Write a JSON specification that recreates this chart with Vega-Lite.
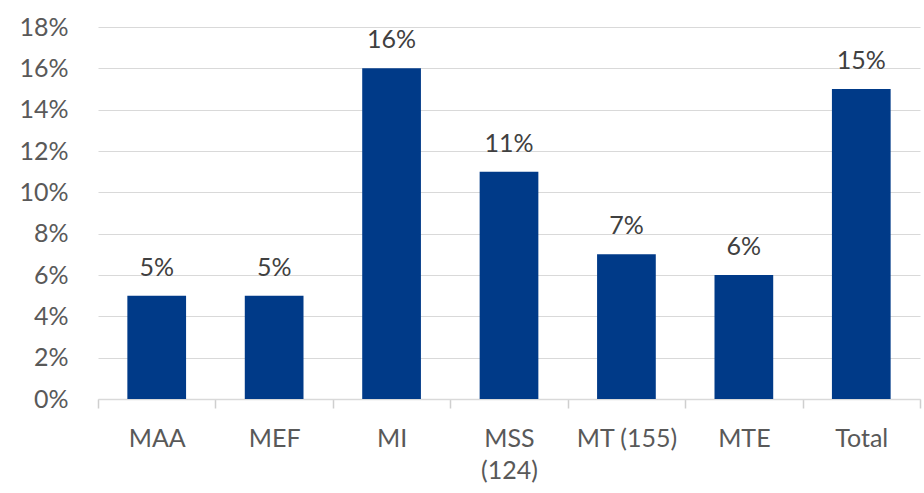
{
  "$schema": "https://vega.github.io/schema/vega-lite/v6.json",
  "width": 822,
  "height": 372,
  "autosize": {"type": "none"},
  "padding": {"left": 98, "top": 27, "right": 4, "bottom": 94},
  "background": "white",
  "config": {"view": {"stroke": null}, "font": "Lato"},
  "data": {"values": [
    {"cat": "MAA", "v": 0.05},
    {"cat": "MEF", "v": 0.05},
    {"cat": "MI", "v": 0.16},
    {"cat": "MSS (124)", "v": 0.11},
    {"cat": "MT (155)", "v": 0.07},
    {"cat": "MTE", "v": 0.06},
    {"cat": "Total", "v": 0.15}
  ]},
  "encoding": {
    "x": {"field": "cat", "type": "nominal", "sort": null,
      "scale": {"paddingInner": 0, "paddingOuter": 0},
      "axis": {"title": null, "labelAngle": 0, "labelFontSize": 25, "labelColor": "#595959",
        "labelPadding": 18, "tickBand": "extent", "ticks": true, "tickSize": 9, "tickWidth": 1.5, "tickColor": "#cfcfcf",
        "domainColor": "#d9d9d9", "domainWidth": 1.5, "labelLineHeight": 32,
        "labelExpr": "datum.label == 'MSS (124)' ? ['MSS', '(124)'] : datum.label"}},
    "y": {"field": "v", "type": "quantitative",
      "scale": {"domain": [0, 0.18]},
      "axis": {"title": null, "format": ".0%", "values": [0,0.02,0.04,0.06,0.08,0.1,0.12,0.14,0.16,0.18],
        "grid": true, "gridColor": "#d9d9d9", "gridWidth": 1.2, "domain": false, "ticks": false, "labelFontSize": 25, "labelColor": "#595959", "labelPadding": 30}}
  },
  "layer": [
    {"mark": {"type": "bar", "color": "#003A88", "width": {"band": 0.5}}},
    {"mark": {"type": "text", "dy": -28, "fontSize": 25, "color": "#404040"},
     "encoding": {"text": {"field": "v", "type": "quantitative", "format": ".0%"}}}
  ]
}
